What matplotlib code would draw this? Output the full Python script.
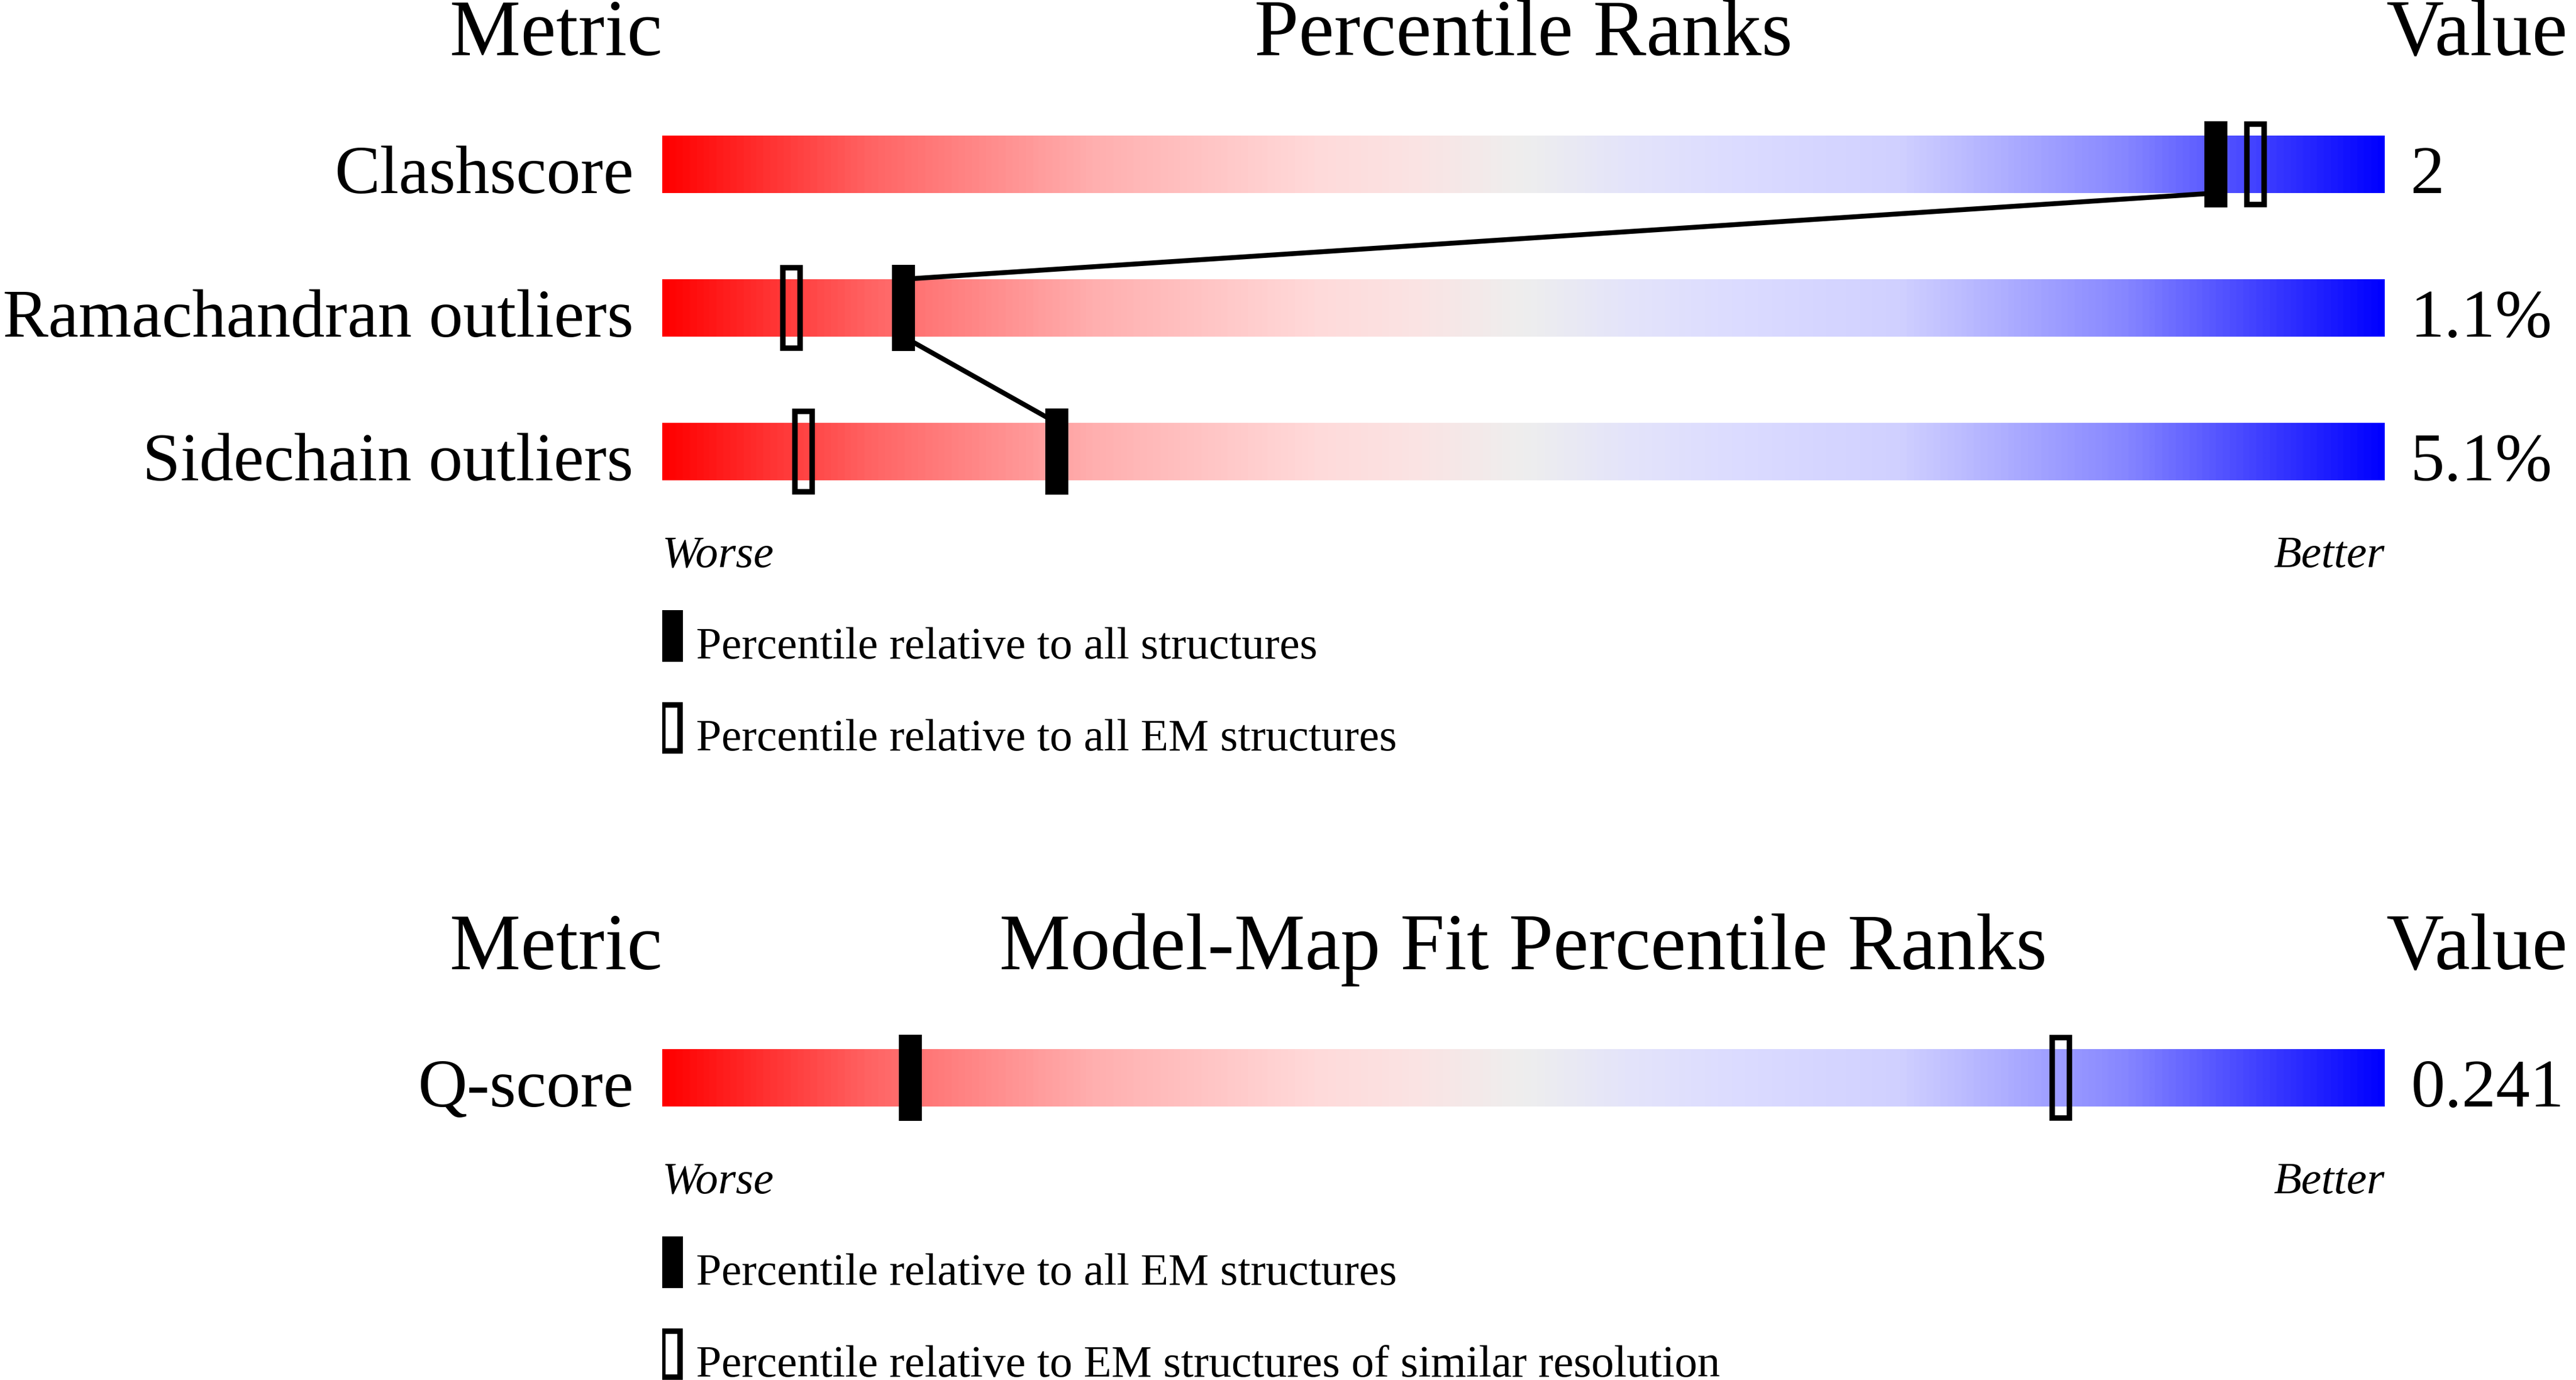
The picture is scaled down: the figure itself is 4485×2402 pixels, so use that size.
import numpy as np
import matplotlib
matplotlib.use("Agg")
import matplotlib.pyplot as plt
from matplotlib.patches import Rectangle
from matplotlib.colors import LinearSegmentedColormap

# ---------------- data ----------------
titles_top = ["Metric", "Percentile Ranks", "Value"]
metrics_top = ["Clashscore", "Ramachandran outliers", "Sidechain outliers"]
values_top = ["2", "1.1%", "5.1%"]
pct_all_top = [90.2, 14.0, 22.9]      # filled marker: all structures
pct_em_top = [92.5, 7.5, 8.2]         # hollow marker: all EM structures
legend_top = ["Percentile relative to all structures",
              "Percentile relative to all EM structures"]

titles_bot = ["Metric", "Model-Map Fit Percentile Ranks", "Value"]
metrics_bot = ["Q-score"]
values_bot = ["0.241"]
pct_allem_bot = [14.4]                # filled marker: all EM structures
pct_similar_bot = [81.2]              # hollow marker: similar resolution
legend_bot = ["Percentile relative to all EM structures",
              "Percentile relative to EM structures of similar resolution"]

scale_labels = ["Worse", "Better"]

# ---------------- layout / style ----------------
W, H = 4485, 2402
DPI = 100
BAR_L, BAR_R = 1153, 4152
BAR_PX = BAR_R - BAR_L
BAR_H = 100
ROW_GAP = 250
MK_W = 40
MK_EXT = 25
HOLLOW_LW_PX = 9.5
LINE_LW_PX = 8.5
FONT = "Liberation Serif"
FS_TITLE = 100
FS_LABEL = 85.5
FS_SMALL = 57


def px2pct(dx):
    return dx * 100.0 / BAR_PX


def px2pt(p):
    return p * 72.0 / DPI


stops = [
    (0.00, (255, 0, 0)),
    (0.12, (255, 100, 100)),
    (0.25, (255, 175, 175)),
    (0.38, (255, 218, 218)),
    (0.44, (250, 228, 228)),
    (0.50, (238, 238, 238)),
    (0.56, (228, 228, 250)),
    (0.62, (220, 220, 255)),
    (0.72, (208, 208, 255)),
    (0.85, (135, 135, 255)),
    (1.00, (0, 0, 255)),
]
cmap = LinearSegmentedColormap.from_list(
    "slider", [(p, tuple(c / 255 for c in rgb)) for p, rgb in stops])

plt.rcParams["font.family"] = [FONT, "DejaVu Serif"]

fig = plt.figure(figsize=(W / DPI, H / DPI), dpi=DPI)
fig.patch.set_facecolor("white")
ax = fig.add_axes([BAR_L / W, 0, BAR_PX / W, 1])
ax.axis("off")

hw = px2pct(MK_W) / 2.0
grad = np.linspace(0, 1, 1500)[None, :]


def filled_marker(x, top):
    ax.add_patch(Rectangle((x - hw, top - MK_EXT), 2 * hw, BAR_H + 2 * MK_EXT,
                           facecolor="black", edgecolor="none", zorder=5))


def hollow_marker(x, top):
    inset_x = px2pct(HOLLOW_LW_PX) / 2.0
    inset_y = HOLLOW_LW_PX / 2.0
    ax.add_patch(Rectangle((x - hw + inset_x, top - MK_EXT + inset_y),
                           2 * hw - 2 * inset_x, BAR_H + 2 * MK_EXT - 2 * inset_y,
                           facecolor="none", edgecolor="black",
                           linewidth=px2pt(HOLLOW_LW_PX), joinstyle="miter",
                           zorder=5))


def section(titles, metrics, values, pct_filled, pct_hollow, legend,
            title_base, first_top):
    # titles
    ax.text(0, title_base, titles[0], ha="right", va="baseline", fontsize=FS_TITLE)
    ax.text(50, title_base, titles[1], ha="center", va="baseline", fontsize=FS_TITLE)
    ax.text(100 + px2pct(3), title_base, titles[2], ha="left", va="baseline",
            fontsize=FS_TITLE)
    tops = [first_top + i * ROW_GAP for i in range(len(metrics))]
    for i, (m, v) in enumerate(zip(metrics, values)):
        top = tops[i]
        ax.imshow(grad, cmap=cmap, aspect="auto", interpolation="bilinear",
                  extent=(0, 100, top + BAR_H, top), zorder=1)
        ax.text(px2pct(-50), top + BAR_H, m, ha="right", va="baseline",
                fontsize=FS_LABEL)
        ax.text(100 + px2pct(45), top + BAR_H, v, ha="left", va="baseline",
                fontsize=FS_LABEL)
        filled_marker(pct_filled[i], top)
        hollow_marker(pct_hollow[i], top)
    # connecting lines between filled markers (centre x, facing bar edges)
    for i in range(len(metrics) - 1):
        pa, pb = pct_filled[i], pct_filled[i + 1]
        ya, yb = tops[i] + BAR_H, tops[i + 1]
        ax.plot([pa, pb], [ya, yb], color="black", linewidth=px2pt(LINE_LW_PX),
                solid_capstyle="butt", zorder=4)
    last_bottom = tops[-1] + BAR_H
    # worse / better
    ax.text(0, last_bottom + 151, scale_labels[0], ha="left", va="baseline",
            fontsize=FS_SMALL, style="italic")
    ax.text(100, last_bottom + 151, scale_labels[1], ha="right", va="baseline",
            fontsize=FS_SMALL, style="italic")
    # legend
    for j, txt in enumerate(legend):
        base = last_bottom + 310 + j * 160
        lx = px2pct(-4) + hw
        ltop = base + 6 - 90
        if j == 0:
            ax.add_patch(Rectangle((lx - hw, ltop), 2 * hw, 90,
                                   facecolor="black", edgecolor="none", zorder=5))
        else:
            ix = px2pct(HOLLOW_LW_PX) / 2.0
            iy = HOLLOW_LW_PX / 2.0
            ax.add_patch(Rectangle((lx - hw + ix, ltop + iy), 2 * hw - 2 * ix,
                                   90 - 2 * iy, facecolor="none",
                                   edgecolor="black",
                                   linewidth=px2pt(HOLLOW_LW_PX),
                                   joinstyle="miter", zorder=5))
        ax.text(px2pct(59), base, txt, ha="left", va="baseline", fontsize=FS_SMALL)


section(titles_top, metrics_top, values_top, pct_all_top, pct_em_top,
        legend_top, 96, 236)
section(titles_bot, metrics_bot, values_bot, pct_allem_bot, pct_similar_bot,
        legend_bot, 1687, 1826)

ax.set_xlim(0, 100)
ax.set_ylim(H, 0)

fig.savefig("out.png", dpi=DPI, facecolor="white")
